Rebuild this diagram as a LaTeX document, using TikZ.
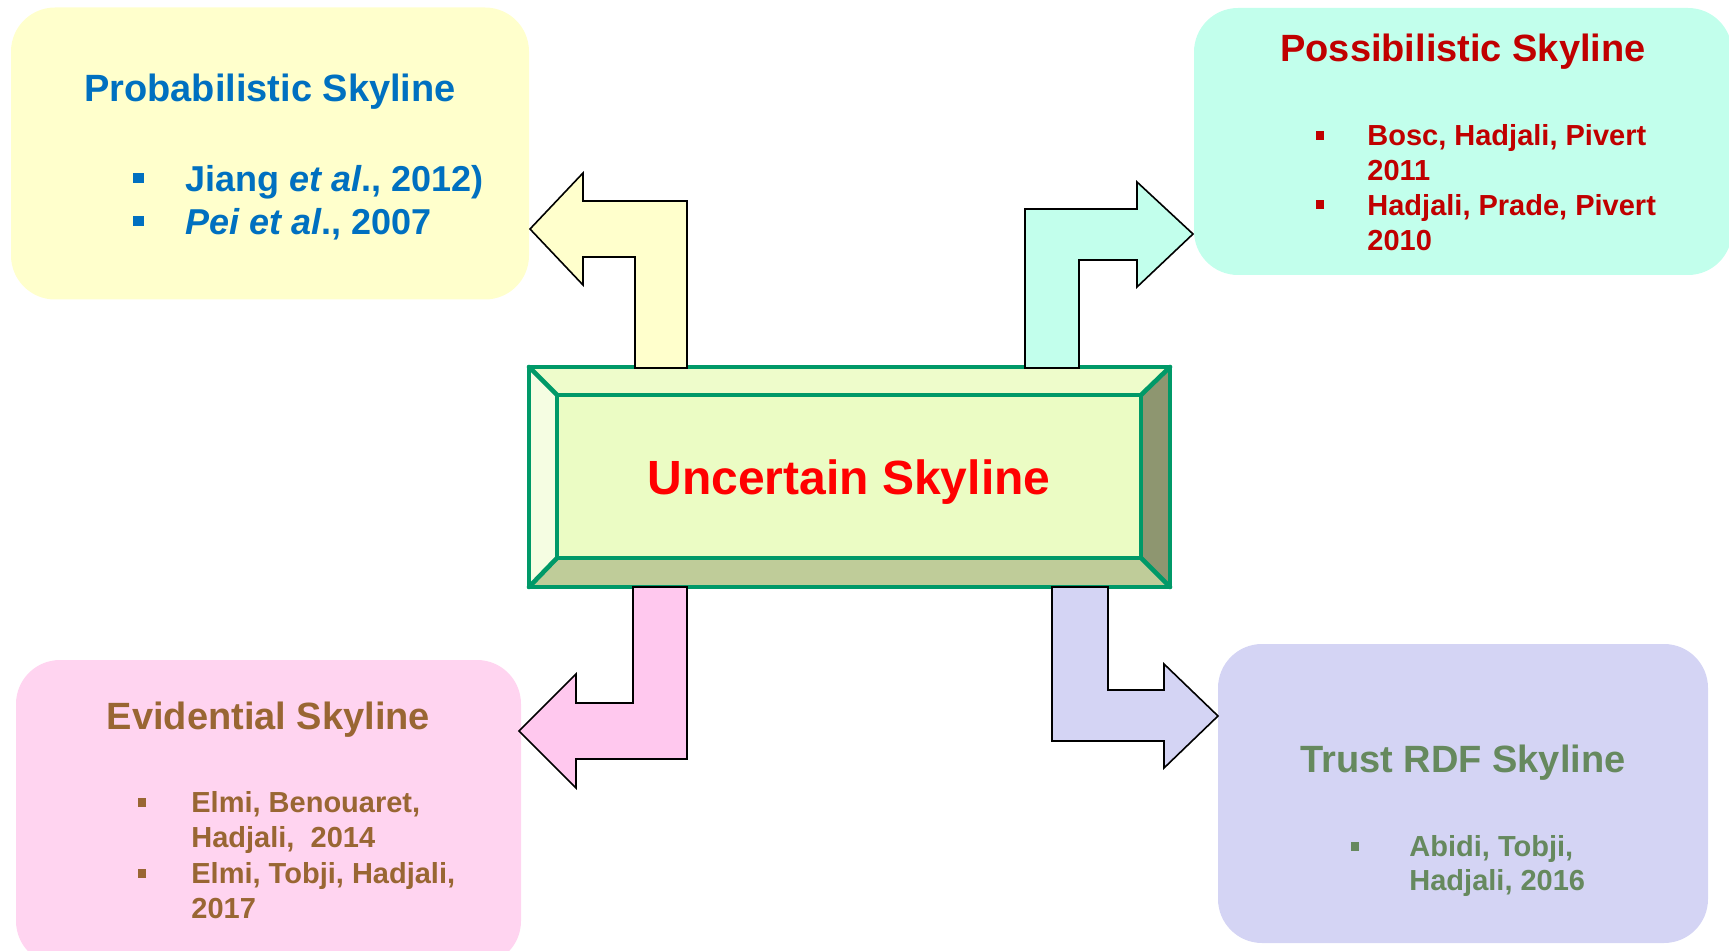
\documentclass[tikz,border=0pt]{standalone}
\usepackage{fontspec}
\setmainfont{Liberation Sans}

% panel fills and text colours
\definecolor{probfill}{HTML}{FFFFCC}
\definecolor{possfill}{HTML}{C2FFEC}
\definecolor{evidfill}{HTML}{FFD4F0}
\definecolor{trustfill}{HTML}{D4D4F4}
\definecolor{pinkarrow}{HTML}{FFC8EE}
\definecolor{probblue}{HTML}{0070C0}
\definecolor{possred}{HTML}{C00000}
\definecolor{evidbrown}{HTML}{996633}
\definecolor{trustgreen}{HTML}{66895E}
% central bevelled block
\definecolor{blockedge}{HTML}{009968}
\definecolor{blockface}{HTML}{EBFCC4}
\definecolor{bevtop}{HTML}{EEFCCB}
\definecolor{bevleft}{HTML}{F5FDE2}
\definecolor{bevbottom}{HTML}{BFCC99}
\definecolor{bevright}{HTML}{8E9670}
\definecolor{blocktext}{HTML}{FF0000}

\newcommand\titlefont{\fontsize{19}{22}\selectfont\bfseries}
\newcommand\bigitemfont{\fontsize{18}{21}\selectfont\bfseries}
\newcommand\itemfont{\fontsize{14.5}{17}\selectfont\bfseries}
\newcommand\blockfont{\fontsize{24}{28}\selectfont\bfseries}

\begin{document}
\begin{tikzpicture}[x=0.5pt,y=-0.5pt,
  panel/.style={rectangle, rounded corners=22pt, inner sep=0pt, draw=none},
  fatarrow/.style={draw=black, line width=0.8pt, line join=miter},
  ttl/.style={anchor=base, font=\titlefont, inner sep=0pt},
  itm/.style={anchor=base west, inner sep=0pt},
  bul/.style={rectangle, inner sep=0pt, minimum width=4pt, minimum height=4.5pt},
  bigbul/.style={rectangle, inner sep=0pt, minimum width=5.5pt, minimum height=5pt},
  edge/.style={draw=blockedge, line width=2.3pt, line join=round, line cap=round}]

\useasboundingbox (0,0) rectangle (1729,951);

% ---------- panels ----------
\node[panel, fill=probfill, minimum width=259pt, minimum height=146pt] (prob) at (270,153.5) {};
\node[panel, fill=possfill, minimum width=269pt, minimum height=133.5pt] (poss) at (1463,141.5) {};
\node[panel, fill=evidfill, minimum width=252.5pt, minimum height=152.5pt] (evid) at (268.5,812.5) {};
\node[panel, fill=trustfill, minimum width=245pt, minimum height=149.5pt] (trust) at (1463,793.5) {};

% ---------- central bevelled block ----------
\coordinate (o1) at (529,367);  \coordinate (o2) at (1170,367);
\coordinate (o3) at (1170,587); \coordinate (o4) at (529,587);
\coordinate (i1) at (557,395);  \coordinate (i2) at (1141,395);
\coordinate (i3) at (1141,558); \coordinate (i4) at (557,558);
\fill[bevtop] (o1) -- (o2) -- (i2) -- (i1) -- cycle;
\fill[bevright] (o2) -- (o3) -- (i3) -- (i2) -- cycle;
\fill[bevbottom] (o3) -- (o4) -- (i4) -- (i3) -- cycle;
\fill[bevleft] (o4) -- (o1) -- (i1) -- (i4) -- cycle;
\node[rectangle, fill=blockface, draw=blockedge, line width=2.3pt,
      minimum width=292pt, minimum height=81.5pt, inner sep=0pt] (core) at (849,476.5) {};
\draw[edge] (o1) -- (o2) -- (o3) -- (o4) -- cycle;
\draw[edge] (o1) -- (i1) (o2) -- (i2) (o3) -- (i3) (o4) -- (i4);
\node[anchor=base, font=\blockfont, text=blocktext, inner sep=0pt] (coreT) at (849,495) {Uncertain Skyline};

% ---------- bent arrows, standing on the block edge ----------
\draw[fatarrow, fill=probfill]
  (687,368) -- (687,201) -- (583,201) -- (583,173) -- (530,229) -- (583,285)
  -- (583,257) -- (635,257) -- (635,368) -- cycle;
\draw[fatarrow, fill=possfill]
  (1025,368) -- (1025,209) -- (1137,209) -- (1137,182) -- (1193,234) -- (1137,287)
  -- (1137,260) -- (1079,260) -- (1079,368) -- cycle;
\draw[fatarrow, fill=pinkarrow]
  (687,587) -- (687,759) -- (576,759) -- (576,788) -- (519,731) -- (576,674)
  -- (576,703) -- (633,703) -- (633,587) -- cycle;
\draw[fatarrow, fill=trustfill]
  (1052,587) -- (1052,741) -- (1164,741) -- (1164,768) -- (1218,716) -- (1164,664)
  -- (1164,690) -- (1108,690) -- (1108,587) -- cycle;

% ---------- Probabilistic ----------
\node[ttl, text=probblue] (probT) at (270,102) {Probabilistic Skyline};
\node[bigbul, fill=probblue] (probB1) at (138.5,178) {};
\node[bigbul, fill=probblue] (probB2) at (138.5,221) {};
\node[itm, font=\bigitemfont, text=probblue] (probI1) at (185,192) {Jiang \textit{et al}., 2012)};
\node[itm, font=\bigitemfont, text=probblue] (probI2) at (185,235) {\textit{Pei et al}., 2007};

% ---------- Possibilistic ----------
\node[ttl, text=possred] (possT) at (1463,62) {Possibilistic Skyline};
\node[bul, fill=possred] (possB1) at (1320,135.5) {};
\node[bul, fill=possred] (possB2) at (1320,205) {};
\node[itm, font=\itemfont, text=possred] (possI1) at (1367,146) {Bosc, Hadjali, Pivert};
\node[itm, font=\itemfont, text=possred] (possI1b) at (1367,181) {2011};
\node[itm, font=\itemfont, text=possred] (possI2) at (1367,216) {Hadjali, Prade, Pivert};
\node[itm, font=\itemfont, text=possred] (possI2b) at (1367,251) {2010};

% ---------- Evidential ----------
\node[ttl, text=evidbrown] (evidT) at (268.5,729) {Evidential Skyline};
\node[bul, fill=evidbrown] (evidB1) at (142,802) {};
\node[bul, fill=evidbrown] (evidB2) at (142,873) {};
\node[itm, font=\itemfont, text=evidbrown] (evidI1) at (191,812) {Elmi, Benouaret,};
\node[itm, font=\itemfont, text=evidbrown] (evidI1b) at (191,847) {Hadjali,\ \ 2014};
\node[itm, font=\itemfont, text=evidbrown] (evidI2) at (191,883) {Elmi, Tobji, Hadjali,};
\node[itm, font=\itemfont, text=evidbrown] (evidI2b) at (191,918) {2017};

% ---------- Trust RDF ----------
\node[ttl, text=trustgreen] (trustT) at (1463,772) {Trust RDF Skyline};
\node[bul, fill=trustgreen] (trustB1) at (1355,846) {};
\node[itm, font=\itemfont, text=trustgreen] (trustI1) at (1409,856) {Abidi, Tobji,};
\node[itm, font=\itemfont, text=trustgreen] (trustI1b) at (1409,890) {Hadjali, 2016};

\end{tikzpicture}
\end{document}
